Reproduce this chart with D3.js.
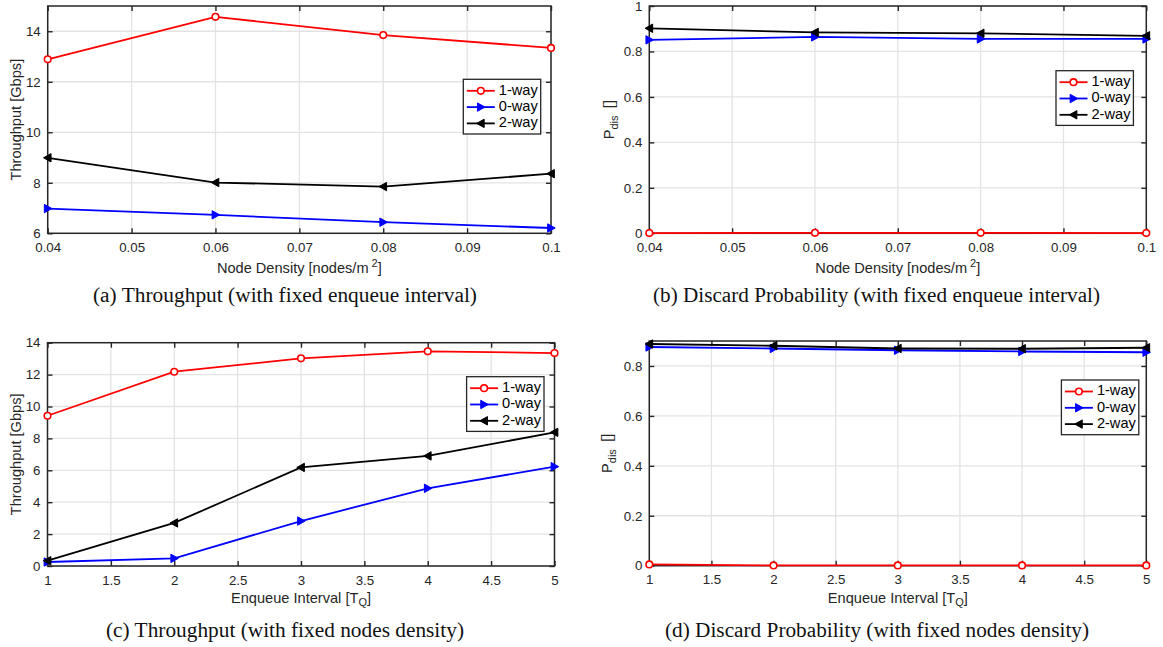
<!DOCTYPE html>
<html>
<head>
<meta charset="utf-8">
<script src="https://cdn.jsdelivr.net/npm/d3@7"></script>
<style>
  html, body { margin: 0; padding: 0; background: #fff; }
  svg { display: block; }
</style>
</head>
<body>
<svg id="fig" width="1163" height="647"></svg>
<script>
// ---- data ----
const densityX = [0.04, 0.06, 0.08, 0.1];
const intervalX = [1, 2, 3, 4, 5];

// throughput vs node density [Gbps]
const thrDensity1way = [12.89, 14.57, 13.85, 13.34];
const thrDensity0way = [6.98, 6.73, 6.44, 6.21];
const thrDensity2way = [8.99, 8.01, 7.85, 8.36];

// discard probability vs node density
const pdisDensity1way = [0.001, 0.002, 0.002, 0.001];
const pdisDensity0way = [0.851, 0.864, 0.855, 0.855];
const pdisDensity2way = [0.902, 0.884, 0.880, 0.869];

// throughput vs enqueue interval [Gbps]
const thrInterval1way = [9.42, 12.18, 13.02, 13.46, 13.35];
const thrInterval0way = [0.25, 0.48, 2.82, 4.87, 6.23];
const thrInterval2way = [0.33, 2.70, 6.18, 6.90, 8.38];

// discard probability vs enqueue interval
const pdisInterval1way = [0.005, 0.001, 0.001, 0.001, 0.001];
const pdisInterval0way = [0.876, 0.870, 0.863, 0.858, 0.855];
const pdisInterval2way = [0.888, 0.881, 0.870, 0.869, 0.873];

// tick values
const densityTicks = [0.04, 0.05, 0.06, 0.07, 0.08, 0.09, 0.1];
const densityTickLabels = ["0.04", "0.05", "0.06", "0.07", "0.08", "0.09", "0.1"];
const intervalTicks = [1, 1.5, 2, 2.5, 3, 3.5, 4, 4.5, 5];
const intervalTickLabels = ["1", "1.5", "2", "2.5", "3", "3.5", "4", "4.5", "5"];
const thrTicksA = [6, 8, 10, 12, 14];
const thrTicksC = [0, 2, 4, 6, 8, 10, 12, 14];
const pdisTicksB = [0, 0.2, 0.4, 0.6, 0.8, 1];
const pdisTicksD = [0, 0.2, 0.4, 0.6, 0.8];

const seriesNames = ["1-way", "0-way", "2-way"];
const seriesColors = ["#ff0000", "#0000ff", "#000000"];
const seriesMarkers = ["circle", "triRight", "triLeft"];

// ---- layout of the four panels ----
const panels = [
  { left: 47.7, right: 551, top: 6, bottom: 233.3,
    xs: densityX, xDomain: [0.04, 0.1], xTicks: densityTicks, xLabels: densityTickLabels,
    yDomain: [6, 15], yTicks: thrTicksA,
    ys: [thrDensity1way, thrDensity0way, thrDensity2way],
    yTitle: "thr", yTitleX: 17, xTitle: "density", xTitleY: 269,
    legend: [463.3, 79.3],
    caption: "(a) Throughput (with fixed enqueue interval)", capX: 285, capY: 302, capW: 384 },
  { left: 649.3, right: 1146.3, top: 6, bottom: 233.3,
    xs: densityX, xDomain: [0.04, 0.1], xTicks: densityTicks, xLabels: densityTickLabels,
    yDomain: [0, 1], yTicks: pdisTicksB,
    ys: [pdisDensity1way, pdisDensity0way, pdisDensity2way],
    yTitle: "pdis", yTitleX: 610, xTitle: "density", xTitleY: 269,
    legend: [1056, 70.7],
    caption: "(b) Discard Probability (with fixed enqueue interval)", capX: 876.5, capY: 302, capW: 447 },
  { left: 47.5, right: 554.5, top: 342.7, bottom: 566,
    xs: intervalX, xDomain: [1, 5], xTicks: intervalTicks, xLabels: intervalTickLabels,
    yDomain: [0, 14], yTicks: thrTicksC,
    ys: [thrInterval1way, thrInterval0way, thrInterval2way],
    yTitle: "thr", yTitleX: 17, xTitle: "interval", xTitleY: 598.5,
    legend: [466.6, 376.7],
    caption: "(c) Throughput (with fixed nodes density)", capX: 285, capY: 637, capW: 358 },
  { left: 649.3, right: 1146.3, top: 341, bottom: 565.7,
    xs: intervalX, xDomain: [1, 5], xTicks: intervalTicks, xLabels: intervalTickLabels,
    yDomain: [0, 0.9], yTicks: pdisTicksD,
    ys: [pdisInterval1way, pdisInterval0way, pdisInterval2way],
    yTitle: "pdis", yTitleX: 608, xTitle: "interval", xTitleY: 598.5,
    legend: [1061.4, 380],
    caption: "(d) Discard Probability (with fixed nodes density)", capX: 877, capY: 637, capW: 424 }
];

const svg = d3.select("#fig");
svg.append("rect").attr("width", 1163).attr("height", 647).attr("fill", "#fff");

const AX = "#262626";
const GRID = "#e3e3e3";
const SANS = "'Liberation Sans', Arial, Helvetica, sans-serif";
const SERIF = "'Liberation Serif', 'Times New Roman', serif";

function markerPath(kind, cx, cy) {
  const s = 4.2;
  if (kind === "triRight") return `M${cx + s},${cy} L${cx - s * 0.8},${cy - s} L${cx - s * 0.8},${cy + s} Z`;
  return `M${cx - s},${cy} L${cx + s * 0.8},${cy - s} L${cx + s * 0.8},${cy + s} Z`;
}

function drawMarker(g, kind, color, cx, cy) {
  if (kind === "circle") {
    g.append("circle").attr("cx", cx).attr("cy", cy).attr("r", 3.3)
      .attr("fill", "#fff").attr("stroke", color).attr("stroke-width", 1.6);
  } else {
    g.append("path").attr("d", markerPath(kind, cx, cy))
      .attr("fill", color).attr("stroke", color).attr("stroke-width", 1);
  }
}

panels.forEach(p => {
  const x = d3.scaleLinear().domain(p.xDomain).range([p.left, p.right]);
  const y = d3.scaleLinear().domain(p.yDomain).range([p.bottom, p.top]);
  const w = p.right - p.left, h = p.bottom - p.top;
  const g = svg.append("g");

  // grid
  const grid = g.append("g").attr("stroke", GRID).attr("stroke-width", 1.3);
  p.xTicks.forEach(t => grid.append("line").attr("x1", x(t)).attr("x2", x(t)).attr("y1", p.top).attr("y2", p.bottom));
  p.yTicks.forEach(t => grid.append("line").attr("x1", p.left).attr("x2", p.right).attr("y1", y(t)).attr("y2", y(t)));

  // axes with inward ticks
  const fmtX = v => p.xLabels[p.xTicks.indexOf(v)];
  const bottomAx = g.append("g").attr("transform", `translate(0,${p.bottom})`)
    .call(d3.axisBottom(x).tickValues(p.xTicks).tickFormat(fmtX).tickSize(-5).tickPadding(9));
  const topAx = g.append("g").attr("transform", `translate(0,${p.top})`)
    .call(d3.axisTop(x).tickValues(p.xTicks).tickFormat("").tickSize(-5));
  const leftAx = g.append("g").attr("transform", `translate(${p.left},0)`)
    .call(d3.axisLeft(y).tickValues(p.yTicks).tickFormat(d3.format("~g")).tickSize(-5).tickPadding(7));
  const rightAx = g.append("g").attr("transform", `translate(${p.right},0)`)
    .call(d3.axisRight(y).tickValues(p.yTicks).tickFormat("").tickSize(-5));
  [bottomAx, topAx, leftAx, rightAx].forEach(a => {
    a.select(".domain").remove();
    a.selectAll(".tick line").attr("stroke", AX).attr("stroke-width", 1.4);
    a.selectAll(".tick text").attr("fill", AX).attr("font-size", 13.3).attr("font-family", SANS);
  });
  bottomAx.selectAll(".tick text").attr("dy", "0.72em");

  // box
  g.append("rect").attr("x", p.left).attr("y", p.top).attr("width", w).attr("height", h)
    .attr("fill", "none").attr("stroke", AX).attr("stroke-width", 1.5);

  // series
  const line = d3.line();
  p.ys.forEach((vals, i) => {
    const pts = vals.map((v, j) => [x(p.xs[j]), y(v)]);
    g.append("path").attr("d", line(pts)).attr("fill", "none")
      .attr("stroke", seriesColors[i]).attr("stroke-width", 1.8);
    pts.forEach(pt => drawMarker(g, seriesMarkers[i], seriesColors[i], pt[0], pt[1]));
  });

  // axis titles
  const cy = (p.top + p.bottom) / 2, cx = (p.left + p.right) / 2;
  const yt = g.append("text").attr("transform", `translate(${p.yTitleX},${cy}) rotate(-90)`)
    .attr("text-anchor", "middle").attr("dominant-baseline", "middle")
    .attr("font-family", SANS).attr("font-size", 14.6).attr("fill", AX);
  if (p.yTitle === "thr") {
    yt.text("Throughput [Gbps]");
  } else {
    yt.append("tspan").text("P");
    yt.append("tspan").attr("font-size", 11).attr("dy", 4.5).text("dis");
    yt.append("tspan").attr("dy", -4.5).text("\u2002[]");
  }
  const xt = g.append("text").attr("x", cx).attr("y", p.xTitleY)
    .attr("text-anchor", "middle").attr("dominant-baseline", "middle")
    .attr("font-family", SANS).attr("font-size", 14.6).attr("fill", AX);
  if (p.xTitle === "density") {
    xt.append("tspan").text("Node Density [nodes/m");
    xt.append("tspan").attr("font-size", 11).attr("dx", 3).attr("dy", -5).text("2");
    xt.append("tspan").attr("dy", 5).text("]");
  } else {
    xt.append("tspan").text("Enqueue Interval [T");
    xt.append("tspan").attr("font-size", 11).attr("dy", 4.5).text("Q");
    xt.append("tspan").attr("dy", -4.5).text("]");
  }

  // legend
  const [lx, ly] = p.legend;
  const lg = g.append("g");
  lg.append("rect").attr("x", lx).attr("y", ly).attr("width", 77.4).attr("height", 54.7)
    .attr("fill", "#fff").attr("stroke", AX).attr("stroke-width", 1.3);
  seriesNames.forEach((name, i) => {
    const ey = ly + 11.5 + i * 16.3;
    lg.append("line").attr("x1", lx + 3.5).attr("x2", lx + 31.5).attr("y1", ey).attr("y2", ey)
      .attr("stroke", seriesColors[i]).attr("stroke-width", 1.8);
    drawMarker(lg, seriesMarkers[i], seriesColors[i], lx + 17.5, ey);
    lg.append("text").attr("x", lx + 35.5).attr("y", ey).attr("dominant-baseline", "middle")
      .attr("font-family", SANS).attr("font-size", 14.6).attr("fill", "#000").text(name);
  });

  // caption
  g.append("text").attr("x", p.capX).attr("y", p.capY).attr("text-anchor", "middle")
    .attr("font-family", SERIF).attr("font-size", 20).attr("fill", "#111")
    .attr("textLength", p.capW).attr("lengthAdjust", "spacingAndGlyphs")
    .text(p.caption);
});
</script>
</body>
</html>
